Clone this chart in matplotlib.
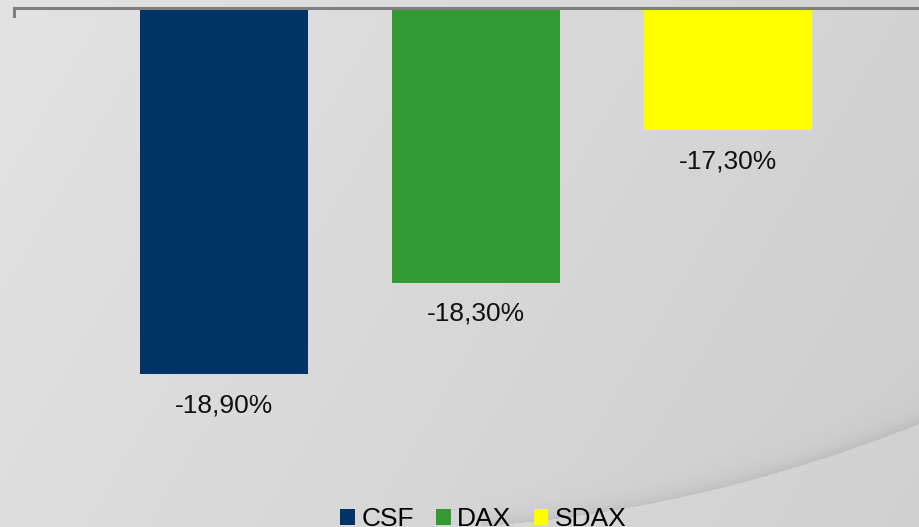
import numpy as np
import matplotlib
matplotlib.use("Agg")
import matplotlib.pyplot as plt
from matplotlib.patches import Patch

plt.rcParams['font.family'] = ['Liberation Sans', 'DejaVu Sans']

categories = ["CSF", "DAX", "SDAX"]
values = [-18.9, -18.3, -17.3]
labels = ["-18,90%", "-18,30%", "-17,30%"]
colors = ["#003366", "#339933", "#FFFF00"]

W, H = 920, 527
fig = plt.figure(figsize=(W / 100, H / 100), dpi=100)

# ----- background: grey diagonal gradient with a swoosh ----- #
xx, yy = np.meshgrid(np.arange(W), np.arange(H))
t = (xx / W) * 0.75 + (yy / H) * 0.25
bg = 0.89 - 0.085 * t
# curved edge bottom right
px = np.array([600, 760, 920])
py = np.array([512, 477, 423])
coef = np.polyfit(px, py, 2)
ycurve = np.polyval(coef, xx)
d = yy - ycurve
shadow = np.where(d < 0, np.exp(d / 10.0), 0.0)
bg = bg - 0.07 * shadow * (xx > 480)
bg = np.where((d >= 0) & (xx > 480), bg + 0.012, bg)
bg = np.clip(bg, 0, 1)
ax_bg = fig.add_axes([0, 0, 1, 1])
ax_bg.imshow(np.dstack([bg, bg, bg]), extent=(0, W, H, 0), aspect='auto')
ax_bg.axis('off')

# ----- bars ----- #
top_px = 8
ax = fig.add_axes([14 / W, 0, (W - 14) / W, (H - top_px) / H])
ax.patch.set_alpha(0)
x = np.arange(len(categories))
ax.bar(x, values, width=0.667, color=colors)
ax.set_xlim((14 - 224) / 252, (920 - 224) / 252)
ax.set_ylim(-16.5 - (H - top_px) / 152.5, -16.5)

for xi, v, lab in zip(x, values, labels):
    ax.annotate(lab, (xi, v), xytext=(0, -22.5), textcoords='offset points',
                ha='center', va='center', fontsize=19, color='#111111')

for s in ['left', 'right', 'bottom']:
    ax.spines[s].set_visible(False)
ax.spines['top'].set_color('#7f7f7f')
ax.spines['top'].set_linewidth(2.2)
ax.plot([0, 0], [1, 1 - 8 / (H - top_px)], transform=ax.transAxes,
        color='#7f7f7f', lw=2.2, clip_on=False)
ax.set_xticks([])
ax.set_yticks([])

handles = [Patch(facecolor=c, edgecolor='none') for c in colors]
fig.legend(handles, categories, loc='lower center', ncol=3,
           bbox_to_anchor=(0.5255, -0.053), frameon=False, fontsize=19,
           handlelength=0.55, handleheight=0.55, handletextpad=0.25,
           columnspacing=0.85)

fig.savefig("out.png", dpi=100)
